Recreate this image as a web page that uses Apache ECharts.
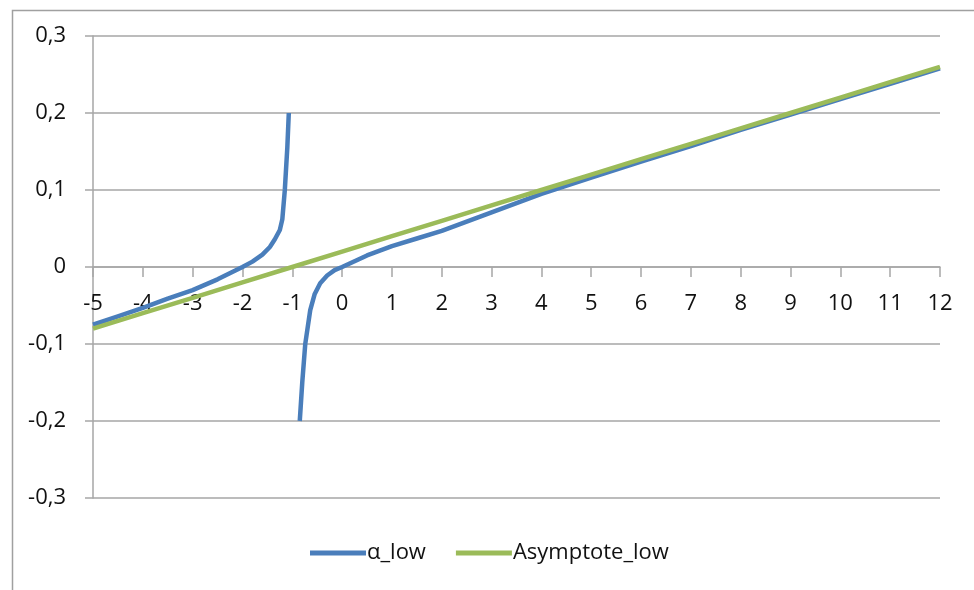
<!DOCTYPE html>
<html>
<head>
<meta charset="utf-8">
<script src="https://cdn.jsdelivr.net/npm/echarts@6/dist/echarts.min.js"></script>
<style>
html,body{margin:0;padding:0;background:#fff;}
#chart{width:974px;height:590px;}
</style>
</head>
<body>
<div id="chart"></div>
<script>
// x positions and values
const alphaX = [-5, -4.5, -4, -3.5, -3, -2.5, -2, -1.8, -1.6, -1.45, -1.35, -1.25, -1.2, -1.15, -1.1, -1.07,
                -1.0,
                -0.85, -0.8, -0.74, -0.64, -0.55, -0.44, -0.3, -0.15, 0, 0.5, 1, 1.5, 2, 3, 4, 5, 6, 7, 8, 9, 10, 11, 12];
const alphaY = [-0.075, -0.064, -0.053, -0.041, -0.030, -0.016, 0.000, 0.007, 0.016, 0.026, 0.036, 0.048, 0.062, 0.100, 0.155, 0.200,
                null,
                -0.200, -0.150, -0.100, -0.056, -0.035, -0.021, -0.011, -0.004, 0.000, 0.015, 0.027, 0.037, 0.047, 0.071, 0.095, 0.116, 0.137, 0.157, 0.178, 0.198, 0.218, 0.238, 0.258];
const asymX = [-5, -4, -3, -2, -1, 0, 1, 2, 3, 4, 5, 6, 7, 8, 9, 10, 11, 12];
const asymY = [-0.08, -0.06, -0.04, -0.02, 0.00, 0.02, 0.04, 0.06, 0.08, 0.10, 0.12, 0.14, 0.16, 0.18, 0.20, 0.22, 0.24, 0.26];
const seriesNames = ['α_low', 'Asymptote_low'];

const chart = echarts.init(document.getElementById('chart'));
const FONT = 'Open Sans';
const GRAY = '#a6a6a6';
chart.setOption({
  animation: false,
  backgroundColor: '#fff',
  graphic: [{
    type: 'rect', left: 10, top: 8,
    shape: {width: 1000, height: 1000},
    style: {fill: 'none', stroke: '#a0a0a0', lineWidth: 1.5},
    silent: true
  }],
  grid: {left: 93, right: 34, top: 36, bottom: 92},
  legend: {
    left: 305, top: 537,
    icon: 'rect', itemWidth: 56, itemHeight: 5, itemGap: 30,
    textStyle: {fontFamily: FONT, fontSize: 22, color: '#111', padding: [0, 0, 0, -4]},
    data: seriesNames
  },
  xAxis: {
    type: 'value', min: -5, max: 12, interval: 1,
    axisLine: {onZero: true, lineStyle: {color: GRAY, width: 1.5}},
    axisTick: {show: true, length: 10, lineStyle: {color: GRAY, width: 1.5}},
    axisLabel: {fontFamily: FONT, fontSize: 22, color: '#111', margin: -205, verticalAlign: 'top'},
    splitLine: {show: false}
  },
  yAxis: {
    type: 'value', min: -0.3, max: 0.3, interval: 0.1,
    axisLine: {show: true, onZero: false, lineStyle: {color: GRAY, width: 1.5}},
    axisTick: {show: true, length: 8, lineStyle: {color: GRAY, width: 1.5}},
    axisLabel: {
      fontFamily: FONT, fontSize: 22, color: '#111', margin: 27,
      formatter: v => Math.abs(v) < 1e-9 ? '0' : v.toFixed(1).replace('.', ',')
    },
    splitLine: {show: true, lineStyle: {color: GRAY, width: 1.5}}
  },
  series: [
    {
      name: seriesNames[0], type: 'line', showSymbol: false, connectNulls: false,
      lineStyle: {color: '#4a7ebb', width: 4.5}, itemStyle: {color: '#4a7ebb'},
      data: alphaX.map((x, i) => [x, alphaY[i]]), z: 2
    },
    {
      name: seriesNames[1], type: 'line', showSymbol: false,
      lineStyle: {color: '#9bbb59', width: 4.5}, itemStyle: {color: '#9bbb59'},
      data: asymX.map((x, i) => [x, asymY[i]]), z: 3
    }
  ]
});
</script>
</body>
</html>
